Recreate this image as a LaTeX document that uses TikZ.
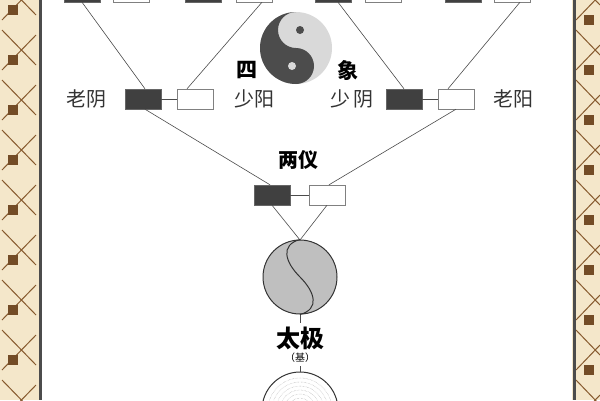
\documentclass[tikz,border=0pt]{standalone}
\usepackage{fontspec}
\newfontfamily\cjk{Noto Sans CJK SC}
\begin{document}
\begin{tikzpicture}[x=1pt,y=-1pt,
  blk/.style={draw=black!60,fill=black!75,minimum width=36pt,minimum height=20pt,inner sep=0pt},
  wht/.style={draw=black!50,fill=white,minimum width=36pt,minimum height=20pt,inner sep=0pt},
  ln/.style={draw=black!70,line width=0.6pt},
  lbl/.style={font=\cjk\fontsize{20}{20}\selectfont,text=black!80},
  big/.style={font=\cjk\bfseries\fontsize{20}{20}\selectfont}]
\useasboundingbox (0,0) rectangle (600,400);
\fill[yellow!25!brown!25] (0,0) rectangle (600,400);
\foreach \y in {0,50,...,400}{
  \draw[brown!70!black,line width=1pt] (2,\y-20) -- (36,\y+15);
  \draw[brown!70!black,line width=1pt] (36,\y-15) -- (2,\y+20);
  \fill[brown!60!black] (8,\y+5) rectangle (18,\y+15);
  \draw[brown!70!black,line width=1pt] (576,\y-20) -- (600,\y+5);
  \draw[brown!70!black,line width=1pt] (600,\y-5) -- (576,\y+20);
  \fill[brown!60!black] (584,\y+15) rectangle (594,\y+25);
}
\fill[white] (42,0) rectangle (572,400);
\draw[black!70,line width=3pt] (40,0) -- (40,400);
\draw[black!70,line width=3pt] (574,0) -- (574,400);
% top row
\node[blk] (t1) at (82,-8) {};
\node[wht] (t2) at (131,-8) {};
\node[blk] (t3) at (203,-8) {};
\node[wht] (t4) at (254,-8) {};
\node[blk] (t5) at (333,-8) {};
\node[wht] (t6) at (383,-8) {};
\node[blk] (t7) at (463,-8) {};
\node[wht] (t8) at (512,-8) {};
% yin-yang
\begin{scope}[shift={(296,48)},yscale=-1]
\fill[black!15] (0,0) circle (36);
\fill[black!70] (0,36) arc (90:270:36) arc (270:450:18) arc (270:90:18) -- cycle;
\fill[black!70] (4,18) circle (4);
\fill[black!15] (-4,-18) circle (4);
\end{scope}
\node[big,font=\cjk\bfseries\fontsize{21}{21}\selectfont] (si) at (247,70) {四};
\node[big,font=\cjk\bfseries\fontsize{21}{21}\selectfont] (xiang) at (348,70) {象};
% row 2
\node[blk] (m1) at (143,99) {};
\node[wht] (m2) at (195,99) {};
\node[blk] (m3) at (404,99) {};
\node[wht] (m4) at (456,99) {};
\draw[ln] (m1) -- (m2); \draw[ln] (m3) -- (m4);
\node[lbl] (l1) at (86,99) {老阴};
\node[lbl] (l2) at (254,99) {少阳};
\node[lbl] (l3) at (352,99) {少\,阴};
\node[lbl] (l4) at (513,99) {老阳};
\draw[ln] (t1.south) -- ([xshift=2pt]m1.north);
\draw[ln] ([xshift=8pt]t4.south) -- ([xshift=-8pt]m2.north);
\draw[ln] ([xshift=5pt]t5.south) -- (m3.north);
\draw[ln] ([xshift=8pt]t8.south) -- ([xshift=-8pt]m4.north);
% two
\node[big] (ly) at (298,160) {两仪};
\node[blk] (b1) at (272,195) {};
\node[wht] (b2) at (327,195) {};
\draw[ln] (b1) -- (b2);
\draw[ln] ([xshift=2pt]m1.south) -- ([xshift=-2pt]b1.north);
\draw[ln] (m4.south) -- ([xshift=2pt]b2.north);
% taiji
\node[circle,draw=black!80,line width=1pt,fill=black!25,minimum size=74pt,inner sep=0pt] (tj) at (300,277) {};
\coordinate (tp) at (300,240);
\draw[ln] (b1.south) -- (tp) -- (b2.south);
\draw[black!80,line width=1pt] (tj.north) .. controls (280,245) and (285,262) .. (300,277) .. controls (315,292) and (320,309) .. (tj.south);
\node[big,font=\cjk\bfseries\fontsize{24}{24}\selectfont] (tai) at (300,338) {太极};
\node[font=\cjk\fontsize{10}{10}\selectfont] (ji) at (300,358) {（基）};
\node[circle,draw=black!80,line width=1pt,minimum size=76pt,inner sep=0pt] (wj) at (300,410) {};
\foreach \r in {4,8,...,34} \draw[black!40,densely dotted] (wj.center) circle (\r);
\draw[black!70,line width=0.5pt] (tj.south) -- (tai.north);
\draw[black!70,line width=0.5pt] (ji.south) -- (wj.north);
\end{tikzpicture}
\end{document}
